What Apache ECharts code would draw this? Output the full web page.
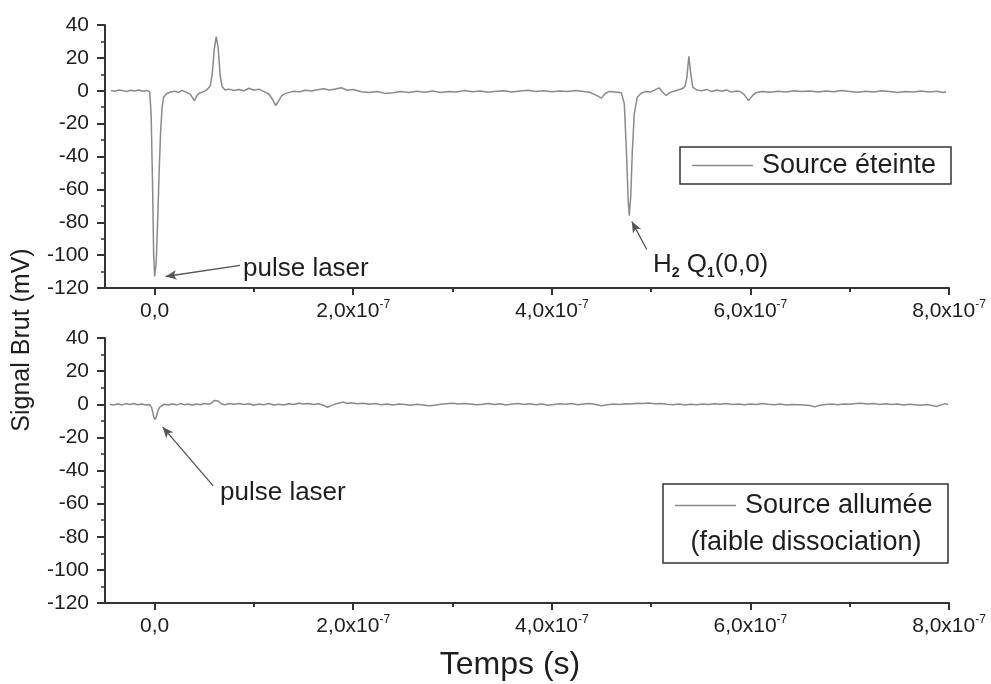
<!DOCTYPE html>
<html><head><meta charset="utf-8">
<script src="https://cdn.jsdelivr.net/npm/echarts@6/dist/echarts.min.js"></script>
<style>html,body{margin:0;padding:0;background:#fff}#c{width:991px;height:684px}</style>
</head><body><div id="c"></div>
<script>
// time in ns, signal in mV
const timeTicks = [0, 200, 400, 600, 800];
const timeMinorTicks = [100, 300, 500, 700];
const timeTickLabels = ['0,0', '2,0x10', '4,0x10', '6,0x10', '8,0x10'];
const timeTickExp = ['', '-7', '-7', '-7', '-7'];
const signalTicks = [-120, -100, -80, -60, -40, -20, 0, 20, 40];
const seriesNames = ['Source éteinte', 'Source allumée'];

const traceOff = [[-44,0.2],[-40,-0.3],[-36,0.5],[-32,0],[-28,-0.4],[-24,0.3],[-20,-0.2],[-16,0.4],[-12,-0.3],[-8,0.2],[-5,-0.6],[-3.5,-15],[-2,-60],[-1,-100],[0,-113],[1.5,-105],[3,-80],[4.5,-50],[6,-25],[7.5,-10],[9,-4],[12,-1.8],[16,-0.8],[20,-0.3],[24,-0.9],[28,0.2],[32,-1],[36,-2.2],[40,-6],[43,-2.5],[46,-1.2],[50,-0.4],[53,0.8],[56,3],[58,10],[60,25],[62,33],[64,26],[66,9],[68,2.5],[71,0.4],[75,1],[80,0.2],[85,0.8],[90,0],[95,1.5],[100,0.3],[105,1],[110,-0.5],[115,-2],[119,-5.5],[122,-9],[125,-6],[128,-3],[132,-1.6],[136,-1],[140,-0.3],[146,-0.6],[152,0.3],[158,-0.1],[164,0.6],[170,1.2],[176,0.4],[182,1],[188,1.8],[194,0.3],[200,0.8],[208,-0.6],[216,-1],[224,-0.4],[232,-1.6],[240,-1.2],[248,-0.5],[256,-1],[264,-0.3],[272,-0.9],[280,-0.2],[288,-1.1],[296,-0.4],[304,-0.8],[312,0.1],[320,-0.6],[328,-0.2],[336,-0.9],[344,-0.3],[352,0],[360,-0.7],[368,-0.2],[376,0.3],[384,-0.4],[392,0],[400,-0.6],[408,-0.1],[416,-0.5],[424,0.2],[432,-0.4],[438,-0.9],[444,-2.5],[450,-4.5],[454,-1.5],[458,-0.4],[464,-0.8],[470,-1.2],[473,-8],[475,-35],[477,-68],[478,-76],[479.5,-64],[481,-38],[483,-14],[486,-4],[490,-1.5],[494,-0.5],[499,-0.8],[504,0.5],[508,1.8],[511,-0.5],[515,-2.9],[519,-1],[523,-0.3],[527,0.5],[531,1.2],[534,2.5],[536,8],[538,21],[540,10],[542,2],[546,0.5],[551,0],[556,0.8],[561,-0.5],[566,0.4],[571,-0.3],[576,0.5],[581,-0.8],[586,-0.2],[590,-0.6],[594,-2.5],[598,-6],[602,-3],[606,-1],[612,-0.4],[620,-0.9],[628,-0.3],[636,-0.7],[644,0],[652,-0.5],[660,-0.2],[668,-0.8],[676,-0.1],[684,-0.6],[692,0.1],[700,-0.4],[708,-0.9],[716,-0.3],[724,-0.7],[732,0],[740,-0.5],[748,-1],[756,-0.4],[764,-0.8],[772,-0.2],[780,-0.7],[788,-0.3],[794,-1.1],[797,-0.8]];

const traceOn = [[-45,0],[-41,-0.4],[-37,0.3],[-33,-0.5],[-29,0.4],[-25,-0.2],[-21,0.5],[-17,-0.3],[-13,0.2],[-9,-0.5],[-5,-0.2],[-3,-2],[-1.5,-6],[0,-9.3],[1.5,-8],[3,-4.5],[5,-1.8],[7,-0.6],[10,0],[14,-0.5],[18,0.3],[22,-0.4],[26,0.4],[30,-0.3],[34,0.2],[38,-0.6],[42,0.1],[46,-0.3],[50,0.5],[54,0],[57,0.6],[60,2.2],[62,3],[64,2],[67,0.3],[71,-0.3],[75,0.4],[80,0],[85,0.5],[90,-0.2],[95,0.3],[100,-0.6],[105,0.2],[110,-0.3],[115,0.4],[120,-0.5],[125,0],[130,-0.4],[135,0.3],[140,-0.2],[145,0.6],[150,0.1],[155,0.5],[160,-0.2],[165,0.3],[170,-0.6],[174,-1.8],[178,-0.8],[182,0.2],[186,0.7],[190,1.3],[194,0.5],[198,0.9],[204,0.3],[210,0.6],[216,0],[222,0.4],[228,-0.3],[234,0.2],[240,-0.5],[246,0.1],[252,-0.2],[258,-0.6],[264,0],[270,-0.4],[276,-0.9],[282,-0.6],[288,0],[294,0.3],[300,0.6],[306,0.2],[312,0.5],[318,0.1],[324,-0.3],[330,0],[336,0.4],[342,-0.2],[348,0.3],[354,-0.4],[360,0.1],[366,0.4],[372,-0.1],[378,0.3],[384,-0.3],[390,0.2],[396,-0.6],[402,-0.2],[408,0.3],[414,0],[420,0.4],[426,-0.3],[432,0.1],[438,0.4],[444,-0.2],[450,-0.9],[456,-0.3],[462,0.2],[468,-0.1],[474,0.3],[480,0.2],[486,0.6],[492,0.4],[498,0.7],[504,0.3],[510,0.5],[516,0],[522,-0.3],[528,0.2],[534,-0.4],[540,0],[546,-0.3],[552,0.2],[558,-0.2],[564,0.3],[570,0],[576,0.4],[582,-0.1],[588,0.2],[594,-0.3],[600,0.1],[606,-0.2],[612,0.4],[618,0],[624,-0.3],[630,0.1],[636,-0.4],[642,-0.1],[648,-0.3],[654,-0.5],[660,-0.8],[665,-1.6],[670,-0.6],[676,-0.2],[682,0.1],[688,-0.3],[694,0.2],[700,0],[706,0.4],[712,0.6],[718,0.2],[724,0.4],[730,-0.1],[736,0.3],[742,-0.2],[748,0.2],[754,-0.4],[760,0],[766,-0.3],[772,-0.6],[778,-0.2],[784,-0.9],[788,-1.3],[792,-0.4],[796,0.4],[799,-0.2]];

const FONT = "'Liberation Sans', Arial, Helvetica, sans-serif";
const AXIS = '#333';
const TEXT = '#1e1e1e';
const TRACE = '#8a8a8a';

const xRich = {
  n: { fontSize: 21, fontFamily: FONT, color: TEXT, lineHeight: 24 },
  s: { fontSize: 12, fontFamily: FONT, color: TEXT, verticalAlign: 'top', lineHeight: 12 }
};
function xFormatter(v) {
  const i = timeTicks.indexOf(v);
  if (i < 0) return '';
  return timeTickExp[i] ? '{n|' + timeTickLabels[i] + '}{s|' + timeTickExp[i] + '}' : '{n|' + timeTickLabels[i] + '}';
}
function mainX(g) {
  return {
    type: 'value', gridIndex: g, min: -50, max: 800, interval: 50, position: 'bottom',
    axisLine: { show: true, onZero: false, lineStyle: { color: AXIS, width: 2 } },
    axisTick: { show: true, customValues: timeTicks, length: 7, lineStyle: { color: AXIS, width: 2 } },
    axisLabel: { show: true, customValues: timeTicks, formatter: xFormatter, margin: 11, rich: xRich },
    splitLine: { show: false }
  };
}
function minorX(g) {
  return {
    type: 'value', gridIndex: g, min: -50, max: 800, interval: 50, position: 'bottom',
    axisLine: { show: false, onZero: false },
    axisTick: { show: true, customValues: timeMinorTicks, length: 4, lineStyle: { color: AXIS, width: 2 } },
    axisLabel: { show: false },
    splitLine: { show: false }
  };
}
function yAx(g) {
  return {
    type: 'value', gridIndex: g, min: signalTicks[0], max: signalTicks[signalTicks.length - 1], interval: 20,
    axisLine: { show: true, onZero: false, lineStyle: { color: AXIS, width: 2 } },
    axisTick: { show: true, length: 8, lineStyle: { color: AXIS, width: 2 } },
    minorTick: { show: true, splitNumber: 2, length: 4, lineStyle: { color: AXIS, width: 1.5 } },
    axisLabel: { fontSize: 21, fontFamily: FONT, color: TEXT, margin: 16 },
    splitLine: { show: false }, minorSplitLine: { show: false }
  };
}
const arrowStyle = { color: '#555', width: 1.3, type: 'solid' };
const legendText = { fontSize: 27, fontFamily: FONT, color: TEXT, padding: [0, 0, 0, 4] };

const chart = echarts.init(document.getElementById('c'));
chart.setOption({
  animation: false,
  backgroundColor: '#fff',
  grid: [
    { left: 105, top: 25, width: 844, height: 263 },
    { left: 105, top: 338, width: 844, height: 265 }
  ],
  xAxis: [mainX(0), mainX(1), minorX(0), minorX(1)],
  yAxis: [yAx(0), yAx(1)],
  legend: [
    { data: [seriesNames[0]], left: 692, top: 152, padding: 0, icon: 'rect', itemWidth: 61, itemHeight: 1.5,
      itemStyle: { color: TRACE }, textStyle: legendText },
    { data: [seriesNames[1]], left: 675, top: 492, padding: 0, icon: 'rect', itemWidth: 61, itemHeight: 1.5,
      itemStyle: { color: TRACE }, textStyle: legendText }
  ],
  series: [
    { name: seriesNames[0], type: 'line', xAxisIndex: 0, yAxisIndex: 0, data: traceOff,
      symbol: 'none', showSymbol: false, lineStyle: { color: TRACE, width: 1.5 }, itemStyle: { color: TRACE },
      markLine: { silent: true, symbol: ['none', 'arrow'], symbolSize: [7, 11], lineStyle: arrowStyle,
        label: { show: false }, animation: false,
        data: [
          [{ coord: [86, -106.3] }, { coord: [11, -113] }],
          [{ coord: [495.7, -96.6] }, { coord: [480.6, -79.6] }]
        ] } },
    { name: seriesNames[1], type: 'line', xAxisIndex: 1, yAxisIndex: 1, data: traceOn,
      symbol: 'none', showSymbol: false, lineStyle: { color: TRACE, width: 1.5 }, itemStyle: { color: TRACE },
      markLine: { silent: true, symbol: ['none', 'arrow'], symbolSize: [7, 11], lineStyle: arrowStyle,
        label: { show: false }, animation: false,
        data: [
          [{ coord: [59, -49.3] }, { coord: [8, -13.7] }]
        ] } }
  ],
  graphic: [
    { type: 'rect', shape: { x: 680, y: 147, width: 271, height: 37 }, style: { fill: 'none', stroke: AXIS, lineWidth: 1.5 } },
    { type: 'rect', shape: { x: 663, y: 484, width: 285, height: 79 }, style: { fill: 'none', stroke: AXIS, lineWidth: 1.5 } },
    { type: 'text', x: 806, y: 543, style: { text: '(faible dissociation)', fontSize: 27, fontFamily: FONT, fill: TEXT, align: 'center', verticalAlign: 'middle' } },
    { type: 'text', x: 243, y: 269, style: { text: 'pulse laser', fontSize: 26, fontFamily: FONT, fill: TEXT, align: 'left', verticalAlign: 'middle' } },
    { type: 'text', x: 220, y: 493, style: { text: 'pulse laser', fontSize: 26, fontFamily: FONT, fill: TEXT, align: 'left', verticalAlign: 'middle' } },
    { type: 'text', x: 653, y: 265, style: {
        text: '{n|H}{s|2}{n| Q}{s|1}{n|(0,0)}', align: 'left', verticalAlign: 'middle',
        rich: {
          n: { fontSize: 26, fontFamily: FONT, fill: TEXT, color: TEXT, lineHeight: 30, verticalAlign: 'middle' },
          s: { fontSize: 14, fontFamily: FONT, fontWeight: 'bold', fill: TEXT, color: TEXT, verticalAlign: 'bottom', lineHeight: 14 }
        } } },
    { type: 'text', x: 22, y: 340, rotation: Math.PI / 2, style: { text: 'Signal Brut (mV)', fontSize: 25, fontFamily: FONT, fill: TEXT, align: 'center', verticalAlign: 'middle' } },
    { type: 'text', x: 510, y: 665, style: { text: 'Temps (s)', fontSize: 32, fontFamily: FONT, fill: TEXT, align: 'center', verticalAlign: 'middle' } }
  ]
});
</script>
</body></html>
